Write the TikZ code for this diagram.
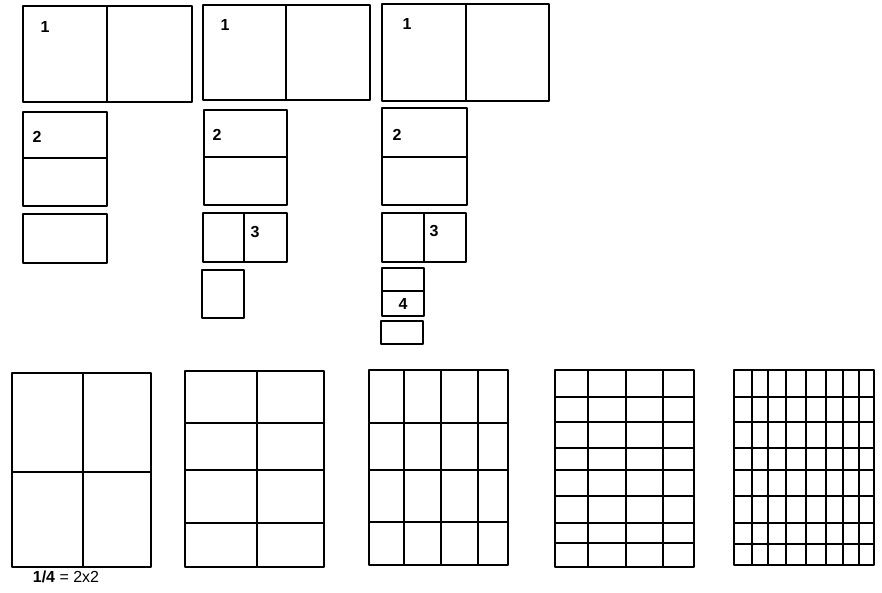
\documentclass[tikz,border=0pt]{standalone}
\usepackage{fontspec}
\setmainfont{Liberation Sans}
\begin{document}
\begin{tikzpicture}[x=1pt,y=-1pt,
  outer/.style={draw=black,line width=1.8pt,line join=round},
  inner/.style={draw=black,line width=1.3pt},
  num/.style={font=\fontsize{16}{18}\selectfont\bfseries,inner sep=0pt,anchor=center},
  captext/.style={font=\fontsize{16}{18}\selectfont,inner sep=0pt,anchor=center}]
\useasboundingbox (0,0) rectangle (882,593);
% ---------- column 1 ----------
\draw[outer] (23,6) rectangle (192,102);
\draw[inner] (107,6) -- (107,102);
\node[num] (a1) at (45,27) {1};
\draw[outer] (23,112) rectangle (107,206);
\draw[inner] (23,158) -- (107,158);
\node[num] (a2) at (37,137) {2};
\draw[outer] (23,214) rectangle (107,263);
% ---------- column 2 ----------
\draw[outer] (203,5) rectangle (370,100);
\draw[inner] (286,5) -- (286,100);
\node[num] (b1) at (225,25) {1};
\draw[outer] (204,110) rectangle (287,205);
\draw[inner] (204,157) -- (287,157);
\node[num] (b2) at (217,135) {2};
\draw[outer] (203,213) rectangle (287,262);
\draw[inner] (244,213) -- (244,262);
\node[num] (b3) at (255,232) {3};
\draw[outer] (202,270) rectangle (244,318);
% ---------- column 3 ----------
\draw[outer] (382,4) rectangle (549,101);
\draw[inner] (466,4) -- (466,101);
\node[num] (c1) at (407,24) {1};
\draw[outer] (382,108) rectangle (467,205);
\draw[inner] (382,157) -- (467,157);
\node[num] (c2) at (397,135) {2};
\draw[outer] (382,213) rectangle (466,262);
\draw[inner] (424,213) -- (424,262);
\node[num] (c3) at (434,231) {3};
\draw[outer] (382,268) rectangle (424,316);
\draw[inner] (382,291) -- (424,291);
\node[num] (c4) at (403,304) {4};
\draw[outer] (381,321) rectangle (423,344);
% ---------- bottom grids ----------
% grid 1 : 2x2
\draw[outer] (12,373) rectangle (151,567);
\draw[inner] (83,373) -- (83,567);
\draw[inner] (12,472) -- (151,472);
\node[captext] (g1) at (66,577) {\textbf{1/4} = 2x2};
% grid 2 : 2 cols x 4 rows
\draw[outer] (185,371) rectangle (324,567);
\draw[inner] (257,371) -- (257,567);
\foreach \yy in {423,470,523} \draw[inner] (185,\yy) -- (324,\yy);
% grid 3 : 4 x 4
\draw[outer] (369,370) rectangle (508,565);
\foreach \xx in {404,441,478} \draw[inner] (\xx,370) -- (\xx,565);
\foreach \yy in {423,470,522} \draw[inner] (369,\yy) -- (508,\yy);
% grid 4 : 4 cols x 8 rows
\draw[outer] (555,370) rectangle (694,567);
\foreach \xx in {588,626,663} \draw[inner] (\xx,370) -- (\xx,567);
\foreach \yy in {397,422,448,470,496,523,543} \draw[inner] (555,\yy) -- (694,\yy);
% grid 5 : 8 x 8
\draw[outer] (734,370) rectangle (874,565);
\foreach \xx in {752,768,786,806,826,843,859} \draw[inner] (\xx,370) -- (\xx,565);
\foreach \yy in {397,422,448,470,496,523,544} \draw[inner] (734,\yy) -- (874,\yy);
\end{tikzpicture}
\end{document}
